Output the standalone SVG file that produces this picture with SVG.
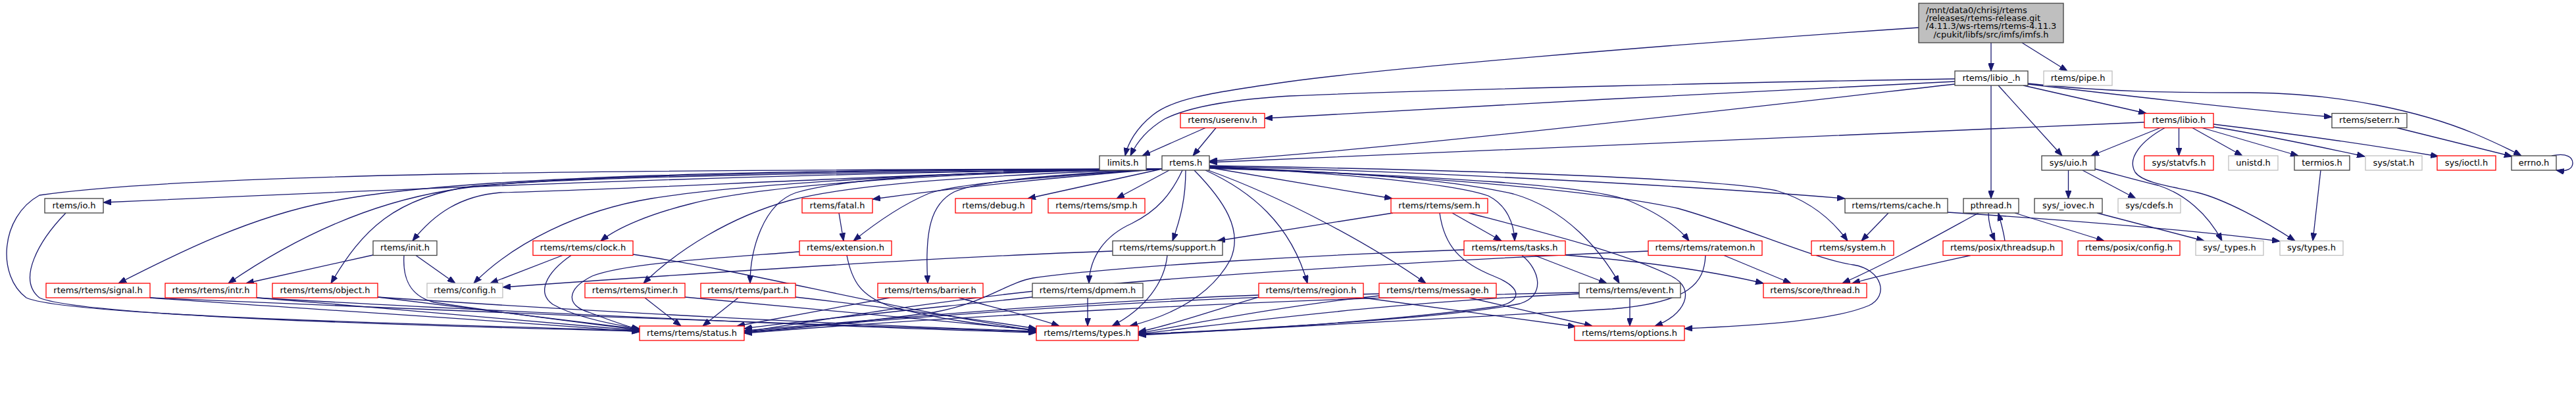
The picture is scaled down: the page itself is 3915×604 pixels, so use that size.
<svg xmlns="http://www.w3.org/2000/svg" width="3915" height="604" viewBox="0 0 3915 604">
<style>
rect{fill:#fff;stroke-width:1.3}
.k{stroke:#404040}.r{stroke:#ff0000}.g{stroke:#bfbfbf}
.m{fill:#bfbfbf;stroke:#404040}
text{font-family:"DejaVu Sans","Liberation Sans",sans-serif;font-size:13px;text-anchor:middle;fill:#000}
.e{fill:none;stroke:#191970;stroke-width:1.3;marker-end:url(#a)}
</style>
<defs>
<marker id="a" markerWidth="12" markerHeight="9" refX="12" refY="4.5" orient="auto" markerUnits="userSpaceOnUse"><path d="M0,0 L12,4.5 L0,9 z" fill="#191970" stroke="#191970" stroke-width="1"/></marker>
</defs>
<rect x="0" y="0" width="3915" height="604" style="fill:#fff;stroke:none"/>
<g id="edges">
<path class="e" d="M3026,65 L3026,108"/>
<path class="e" d="M3073,65 L3142,108"/>
<path class="e" d="M2916,42 C2500,70 2100,105 1960,124 C1830,142 1780,152 1752,175 C1727,195 1714,218 1710,237"/>
<path class="e" d="M2971,120 C2700,124 2200,136 1960,146 C1860,152 1800,166 1770,181 C1745,196 1728,215 1718,237"/>
<path class="e" d="M2971,124 C2700,136 2200,164 1922,180"/>
<path class="e" d="M2971,128 C2600,170 2100,228 1838,245"/>
<path class="e" d="M3075,130 L3262,172.5"/>
<path class="e" d="M3026,130 L3026,302"/>
<path class="e" d="M3037,130 L3134,237"/>
<path class="e" d="M3082,128 C3250,148 3420,167 3544,178"/>
<path class="e" d="M3082,127 C3200,140 3300,141 3420,141 C3560,142 3680,170 3760,203 C3790,216 3812,226 3832,237"/>
<path class="e" d="M3259,186 C2900,200 2200,233 1838,247"/>
<path class="e" d="M3283,194.5 L3178,237"/>
<path class="e" d="M3311.5,194.5 L3311.5,237"/>
<path class="e" d="M3332,194.5 L3408,237"/>
<path class="e" d="M3347,194.5 L3493,237"/>
<path class="e" d="M3364,193 C3450,207 3520,222 3594,238"/>
<path class="e" d="M3364,189 C3480,203 3600,220 3706,238"/>
<path class="e" d="M3290,194.5 C3255,214 3232,240 3245,262 C3258,280 3310,285 3340,293 C3380,303 3440,335 3488,366.5"/>
<path class="e" d="M3184,257 C3215,265 3250,275 3280,282 C3320,295 3355,325 3377,366.5"/>
<path class="e" d="M3143.5,259 L3143.5,302"/>
<path class="e" d="M3165,259 L3246,302"/>
<path class="e" d="M3187,324 L3350,366.5"/>
<path class="e" d="M3022,324 C3022,340 3027,355 3032,366.5"/>
<path class="e" d="M3047,366.5 C3045,352 3041,338 3037,324"/>
<path class="e" d="M3062,324 L3198,366.5"/>
<path class="e" d="M3007,324 C2950,355 2880,395 2800,431"/>
<path class="e" d="M2995,388.5 C2920,405 2860,418 2815,431"/>
<path class="e" d="M3643,194.5 L3818,238"/>
<path class="e" d="M3878,237 C3902,232 3910,240 3910,248 C3910,256 3902,262 3885,259"/>
<path class="e" d="M3527,259 L3515,366.5"/>
<path class="e" d="M2960,323 C3150,335 3350,352 3465,367"/>
<path class="e" d="M2870,324 L2829,366.5"/>
<path class="e" d="M1832,194.5 L1736,237"/>
<path class="e" d="M1848,194.5 L1813,237"/>
<path class="e" d="M1838,252 C2200,258 2600,270 2700,290 C2750,305 2785,335 2808,366.5"/>
<path class="e" d="M1838,253 C2200,262 2600,285 2804,302"/>
<path class="e" d="M1838,255 C2100,264 2400,285 2550,317 C2650,345 2760,395 2817,403 C2860,410 2872,450 2840,465 C2780,490 2650,496 2560,500"/>
<path class="e" d="M1838,256 C2200,268 2420,283 2475,305 C2515,322 2548,342 2567,366.5"/>
<path class="e" d="M1838,254 C2050,262 2200,272 2300,295 C2380,318 2432,380 2461,431"/>
<path class="e" d="M1838,253 C2000,262 2200,276 2262,298 C2290,312 2301,340 2302,366.5"/>
<path class="e" d="M1838,255 L2116,302"/>
<path class="e" d="M1836,259 C1950,300 2080,370 2167,431"/>
<path class="e" d="M1832,259 C1900,290 1962,340 1987,431"/>
<path class="e" d="M1802,259 C1802,300 1795,330 1782,366.5"/>
<path class="e" d="M1797,259 C1780,295 1760,320 1720,340 C1680,358 1656,390 1655,431"/>
<path class="e" d="M1815,259 C1860,305 1890,350 1870,395 C1840,450 1780,480 1717,496"/>
<path class="e" d="M1777,259 L1697,302"/>
<path class="e" d="M1766,257 L1562,302"/>
<path class="e" d="M1766,257 C1600,270 1450,286 1326,303"/>
<path class="e" d="M1766,257 C1600,268 1450,279 1410,295 C1370,312 1330,340 1297,366.5"/>
<path class="e" d="M1766,257 C1600,266 1490,274 1450,292 C1415,310 1405,350 1410,431"/>
<path class="e" d="M1766,257 C1500,261 1300,267 1210,293 C1160,310 1140,380 1140,431"/>
<path class="e" d="M1766,257 C1500,266 1300,279 1200,305 C1110,330 1030,380 978,431"/>
<path class="e" d="M1766,257 C1400,263 1150,284 1050,310 C990,325 940,345 913,366.5"/>
<path class="e" d="M1766,257 C1400,261 1100,284 990,302 C880,320 780,370 720,431"/>
<path class="e" d="M1766,257 C1400,262 1000,287 760,293 C700,298 660,325 627,366.5"/>
<path class="e" d="M1766,257 C1300,262 900,268 720,283 C600,300 550,350 503,431"/>
<path class="e" d="M1766,257 C1200,260 800,268 680,290 C560,310 450,360 347,431"/>
<path class="e" d="M1766,257 C1200,258 700,266 500,307 C380,330 270,385 180,431"/>
<path class="e" d="M1766,257 C1200,262 600,288 157,308"/>
<path class="e" d="M1766,257 C1000,258 300,262 60,297 C0,330 -5,420 40,453 C100,480 600,492 972,503"/>
<path class="e" d="M100,324 C60,365 25,425 60,453 C120,480 600,495 972,504"/>
<path class="e" d="M228,453 C400,466 800,490 972,505"/>
<path class="e" d="M228,453 C600,470 1200,494 1575,505"/>
<path class="e" d="M390,453 C600,470 850,492 972,503"/>
<path class="e" d="M390,453 C700,471 1300,499 1575,506"/>
<path class="e" d="M574,452 C700,468 880,489 972,501"/>
<path class="e" d="M574,452 C900,474 1300,495 1575,504"/>
<path class="e" d="M614,388.5 C612,420 620,450 660,460 C760,476 880,490 972,502"/>
<path class="e" d="M567,388 L374,431"/>
<path class="e" d="M632,388.5 L692,431"/>
<path class="e" d="M855,388.5 L745,431"/>
<path class="e" d="M868,388.5 C830,415 815,445 840,463 C870,480 920,492 972,500"/>
<path class="e" d="M962,387 C1150,415 1350,470 1575,503"/>
<path class="e" d="M980,453 L1035,496"/>
<path class="e" d="M1041,452 C1250,470 1450,490 1575,502"/>
<path class="e" d="M1122,453 L1068,496"/>
<path class="e" d="M1209,452 C1350,468 1480,485 1575,500"/>
<path class="e" d="M1215,383 C1100,392 950,400 900,420 C860,440 860,465 895,475 C920,485 950,495 972,502"/>
<path class="e" d="M1287,388.5 C1295,430 1310,450 1350,465 C1420,485 1500,495 1575,503"/>
<path class="e" d="M1275,324 L1282,366.5"/>
<path class="e" d="M1352,453 L1120,496"/>
<path class="e" d="M1457,453 C1500,465 1570,482 1610,496"/>
<path class="e" d="M1691,382 C1400,392 1000,420 764,437"/>
<path class="e" d="M1774,388.5 C1770,430 1740,470 1690,496"/>
<path class="e" d="M1653,453 L1653,496"/>
<path class="e" d="M1569,452 C1400,470 1200,490 1131,500"/>
<path class="e" d="M2072,453 L2395,497"/>
<path class="e" d="M1913,452 C1850,470 1780,495 1730,505"/>
<path class="e" d="M1913,449 C1600,460 1300,490 1131,503"/>
<path class="e" d="M2233,453 L2420,496"/>
<path class="e" d="M2096,450 C1950,465 1800,495 1730,507"/>
<path class="e" d="M2096,447 C1700,455 1300,490 1131,505"/>
<path class="e" d="M2477,453 L2477,496"/>
<path class="e" d="M2400,447 C2100,460 1850,495 1730,508"/>
<path class="e" d="M2400,445 C1900,455 1400,485 1131,507"/>
<path class="e" d="M2332,388.5 L2442,431"/>
<path class="e" d="M2379,388 C2500,398 2600,412 2680,431"/>
<path class="e" d="M2313,388.5 C2340,410 2350,450 2310,462 C2200,485 1900,500 1730,509"/>
<path class="e" d="M2225,380 C2000,388 1700,405 1570,423 C1530,430 1500,460 1420,475 C1300,492 1200,500 1131,506"/>
<path class="e" d="M2117,324 L1850,366.5"/>
<path class="e" d="M2207,324 L2282,366.5"/>
<path class="e" d="M2188,324 C2195,375 2220,400 2270,420 C2320,440 2310,462 2270,467 C2100,490 1850,505 1730,508"/>
<path class="e" d="M2232,324 C2350,355 2470,385 2540,420 C2580,440 2560,480 2515,496"/>
<path class="e" d="M2620,388.5 L2722,431"/>
<path class="e" d="M2592,388.5 C2590,430 2570,460 2450,470 C2200,485 1900,500 1730,510"/>
<path class="e" d="M2505,382 C2200,395 1800,420 1600,440 C1400,460 1200,495 1131,505"/>
</g>
<g id="n_main"><rect class="m" x="2916" y="5" width="220" height="60"/>
<text x="2927" y="20.2" style="text-anchor:start">/mnt/data0/chrisj/rtems</text>
<text x="2927" y="32.3" style="text-anchor:start">/releases/rtems-release.git</text>
<text x="2927" y="44.4" style="text-anchor:start">/4.11.3/ws-rtems/rtems-4.11.3</text>
<text x="3026" y="56.5">/cpukit/libfs/src/imfs/imfs.h</text></g>
<g id="n_libio_"><rect class="k" x="2971" y="108" width="111" height="22"/><text x="3026.5" y="122.6">rtems/libio_.h</text></g>
<g id="n_pipe"><rect class="g" x="3106" y="108" width="104" height="22"/><text x="3158" y="122.6">rtems/pipe.h</text></g>
<g id="n_userenv"><rect class="r" x="1794" y="172.5" width="128" height="22"/><text x="1858" y="187.1">rtems/userenv.h</text></g>
<g id="n_libio"><rect class="r" x="3259" y="172.5" width="105" height="22"/><text x="3311.5" y="187.1">rtems/libio.h</text></g>
<g id="n_seterr"><rect class="k" x="3544" y="172.5" width="114" height="22"/><text x="3601" y="187.1">rtems/seterr.h</text></g>
<g id="n_limits"><rect class="k" x="1671" y="237" width="71" height="22"/><text x="1706.5" y="251.6">limits.h</text></g>
<g id="n_rtems"><rect class="k" x="1766" y="237" width="72" height="22"/><text x="1802" y="251.6">rtems.h</text></g>
<g id="n_uio"><rect class="k" x="3103" y="237" width="81" height="22"/><text x="3143.5" y="251.6">sys/uio.h</text></g>
<g id="n_statvfs"><rect class="r" x="3259" y="237" width="105" height="22"/><text x="3311.5" y="251.6">sys/statvfs.h</text></g>
<g id="n_unistd"><rect class="g" x="3387" y="237" width="75" height="22"/><text x="3424.5" y="251.6">unistd.h</text></g>
<g id="n_termios"><rect class="k" x="3487" y="237" width="84" height="22"/><text x="3529" y="251.6">termios.h</text></g>
<g id="n_stat"><rect class="g" x="3595" y="237" width="86" height="22"/><text x="3638" y="251.6">sys/stat.h</text></g>
<g id="n_ioctl"><rect class="r" x="3704" y="237" width="89" height="22"/><text x="3748.5" y="251.6">sys/ioctl.h</text></g>
<g id="n_errno"><rect class="k" x="3817" y="237" width="68" height="22"/><text x="3851" y="251.6">errno.h</text></g>
<g id="n_io"><rect class="k" x="68" y="302" width="89" height="22"/><text x="112.5" y="316.6">rtems/io.h</text></g>
<g id="n_fatal"><rect class="r" x="1219" y="302" width="107" height="22"/><text x="1272.5" y="316.6">rtems/fatal.h</text></g>
<g id="n_debug"><rect class="r" x="1452" y="302" width="116" height="22"/><text x="1510" y="316.6">rtems/debug.h</text></g>
<g id="n_smp"><rect class="r" x="1593" y="302" width="147" height="22"/><text x="1666.5" y="316.6">rtems/rtems/smp.h</text></g>
<g id="n_sem"><rect class="r" x="2114" y="302" width="147" height="22"/><text x="2187.5" y="316.6">rtems/rtems/sem.h</text></g>
<g id="n_cache"><rect class="k" x="2804" y="302" width="156" height="22"/><text x="2882" y="316.6">rtems/rtems/cache.h</text></g>
<g id="n_pthread"><rect class="k" x="2984" y="302" width="84" height="22"/><text x="3026" y="316.6">pthread.h</text></g>
<g id="n_iovec"><rect class="k" x="3092" y="302" width="103" height="22"/><text x="3143.5" y="316.6">sys/_iovec.h</text></g>
<g id="n_cdefs"><rect class="g" x="3219" y="302" width="95" height="22"/><text x="3266.5" y="316.6">sys/cdefs.h</text></g>
<g id="n_init"><rect class="k" x="567" y="366.5" width="97" height="22"/><text x="615.5" y="381.1">rtems/init.h</text></g>
<g id="n_clock"><rect class="r" x="810" y="366.5" width="152" height="22"/><text x="886" y="381.1">rtems/rtems/clock.h</text></g>
<g id="n_extension"><rect class="r" x="1215" y="366.5" width="140" height="22"/><text x="1285" y="381.1">rtems/extension.h</text></g>
<g id="n_support"><rect class="k" x="1691" y="366.5" width="167" height="22"/><text x="1774.5" y="381.1">rtems/rtems/support.h</text></g>
<g id="n_tasks"><rect class="r" x="2225" y="366.5" width="154" height="22"/><text x="2302" y="381.1">rtems/rtems/tasks.h</text></g>
<g id="n_ratemon"><rect class="r" x="2505" y="366.5" width="173" height="22"/><text x="2591.5" y="381.1">rtems/rtems/ratemon.h</text></g>
<g id="n_system"><rect class="r" x="2753" y="366.5" width="125" height="22"/><text x="2815.5" y="381.1">rtems/system.h</text></g>
<g id="n_threadsup"><rect class="r" x="2953" y="366.5" width="181" height="22"/><text x="3043.5" y="381.1">rtems/posix/threadsup.h</text></g>
<g id="n_pconfig"><rect class="r" x="3158" y="366.5" width="155" height="22"/><text x="3235.5" y="381.1">rtems/posix/config.h</text></g>
<g id="n_utypes"><rect class="g" x="3337" y="366.5" width="103" height="22"/><text x="3388.5" y="381.1">sys/_types.h</text></g>
<g id="n_systypes"><rect class="g" x="3465" y="366.5" width="96" height="22"/><text x="3513" y="381.1">sys/types.h</text></g>
<g id="n_signal"><rect class="r" x="70" y="431" width="158" height="22"/><text x="149" y="445.6">rtems/rtems/signal.h</text></g>
<g id="n_intr"><rect class="r" x="251" y="431" width="139" height="22"/><text x="320.5" y="445.6">rtems/rtems/intr.h</text></g>
<g id="n_object"><rect class="r" x="414" y="431" width="160" height="22"/><text x="494" y="445.6">rtems/rtems/object.h</text></g>
<g id="n_config"><rect class="g" x="649" y="431" width="115" height="22"/><text x="706.5" y="445.6">rtems/config.h</text></g>
<g id="n_timer"><rect class="r" x="889" y="431" width="152" height="22"/><text x="965" y="445.6">rtems/rtems/timer.h</text></g>
<g id="n_part"><rect class="r" x="1065" y="431" width="144" height="22"/><text x="1137" y="445.6">rtems/rtems/part.h</text></g>
<g id="n_barrier"><rect class="r" x="1334" y="431" width="160" height="22"/><text x="1414" y="445.6">rtems/rtems/barrier.h</text></g>
<g id="n_dpmem"><rect class="k" x="1569" y="431" width="168" height="22"/><text x="1653" y="445.6">rtems/rtems/dpmem.h</text></g>
<g id="n_region"><rect class="r" x="1913" y="431" width="159" height="22"/><text x="1992.5" y="445.6">rtems/rtems/region.h</text></g>
<g id="n_message"><rect class="r" x="2096" y="431" width="178" height="22"/><text x="2185" y="445.6">rtems/rtems/message.h</text></g>
<g id="n_event"><rect class="k" x="2400" y="431" width="154" height="22"/><text x="2477" y="445.6">rtems/rtems/event.h</text></g>
<g id="n_thread"><rect class="r" x="2680" y="431" width="157" height="22"/><text x="2758.5" y="445.6">rtems/score/thread.h</text></g>
<g id="n_status"><rect class="r" x="972" y="496" width="159" height="22"/><text x="1051.5" y="510.6">rtems/rtems/status.h</text></g>
<g id="n_types"><rect class="r" x="1575" y="496" width="155" height="22"/><text x="1652.5" y="510.6">rtems/rtems/types.h</text></g>
<g id="n_options"><rect class="r" x="2393" y="496" width="167" height="22"/><text x="2476.5" y="510.6">rtems/rtems/options.h</text></g>
</svg>
